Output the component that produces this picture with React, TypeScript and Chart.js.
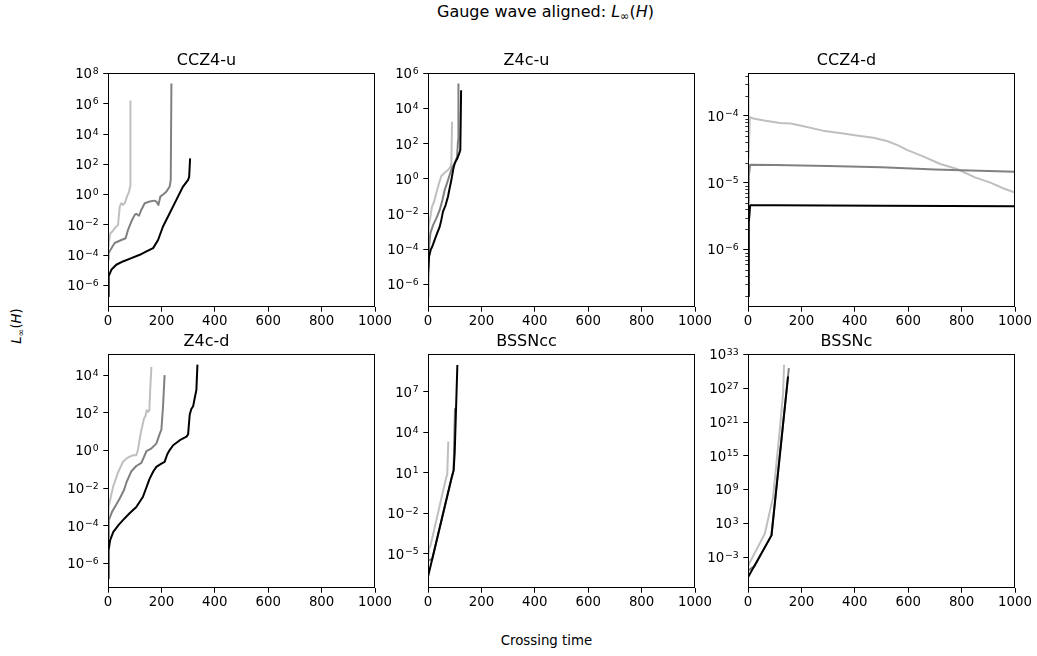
import React, { useEffect, useRef } from "react";
import { Chart, registerables } from "chart.js";

Chart.register(...registerables);

const FONT_FAMILY = "'DejaVu Sans', 'Liberation Sans', sans-serif";
const TICK_FONT_SIZE = 13.33;
const EXP_FONT_SIZE = 9.3;
const TITLE_FONT_SIZE = 16;

const COLOR_FINE = "#000000";
const COLOR_MID = "#808080";
const COLOR_COARSE = "#bfbfbf";

// Crossing-time axis
const xTickStep = 200;
const xMin = 0;
const xMax = 1000;

// ---- CCZ4-u ----
const ccz4uCoarseT = [0, 2.5, 8.75, 16, 25, 37.5, 44, 50, 56, 62.5, 71, 79, 82.5, 84];
const ccz4uCoarseH = [3.7e-4, 6.2e-4, 2.8e-3, 3.6e-3, 6.0e-3, 1.0e-2, 0.16, 0.27, 0.21, 0.27, 0.74, 1.6, 3.4, 1.7e6];
const ccz4uMidT = [0, 2, 8.75, 25, 50, 66, 75, 87.5, 100, 106, 116, 125, 137.5, 156, 175, 181, 189, 196, 209, 219, 231, 235, 237.5];
const ccz4uMidH = [5.0e-5, 1.26e-4, 2.2e-4, 6.3e-4, 1.0e-3, 1.3e-3, 4.7e-3, 1.66e-2, 4.6e-2, 5.4e-2, 4.0e-2, 0.1, 0.27, 0.35, 0.4, 0.35, 0.21, 0.74, 1.1, 1.6, 3.4, 9.3, 2.2e7];
const ccz4uFineT = [0, 2.5, 12.5, 31, 56, 87.5, 119, 144, 169, 187.5, 206, 231, 256, 281, 300, 304, 307.5];
const ccz4uFineH = [1.9e-7, 4.0e-6, 1.07e-5, 2.3e-5, 3.8e-5, 6.3e-5, 1.05e-4, 1.74e-4, 2.9e-4, 1.0e-3, 7.8e-3, 5.9e-2, 0.45, 3.4, 9.3, 15.5, 250];
const ccz4uYTicks = [1e-6, 1e-4, 1e-2, 1, 1e2, 1e4, 1e6, 1e8];

// ---- Z4c-u ----
const z4cuCoarseT = [0, 2.5, 9, 15, 21, 31, 41, 50, 62.5, 75, 84, 87.5, 90];
const z4cuCoarseH = [2.0e-7, 1.9e-3, 7.1e-3, 2.6e-2, 4.1e-2, 0.15, 0.55, 1.45, 2.2, 3.2, 4.9, 7.6, 1.8e3];
const z4cuMidT = [0, 4, 9, 19, 31, 44, 54, 62.5, 71, 81, 91, 100, 109, 112.5, 114];
const z4cuMidH = [1.8e-6, 1.4e-4, 7.9e-4, 2.3e-3, 5.6e-3, 1.7e-2, 6.3e-2, 0.23, 0.55, 1.66, 4.9, 7.6, 18.2, 158, 2.7e5];
const z4cuFineT = [0, 4, 10, 16, 25, 34, 44, 50, 56, 66, 75, 81, 87.5, 94, 100, 110, 119, 121, 124];
const z4cuFineH = [4.0e-6, 3.7e-5, 8.9e-5, 1.4e-4, 3.3e-4, 7.9e-4, 1.9e-3, 4.6e-3, 1.35e-2, 3.2e-2, 9.8e-2, 0.29, 0.85, 3.2, 7.6, 14.8, 34.7, 43.6, 1.1e5];
const z4cuYTicks = [1e-6, 1e-4, 1e-2, 1, 1e2, 1e4, 1e6];

// ---- CCZ4-d ----
const ccz4dCoarseT = [0, 2, 7, 20, 60, 120, 160, 200, 280, 350, 420, 470, 520, 560, 595, 658, 720, 783, 850, 908, 960, 1000];
const ccz4dCoarseH = [3.0e-4, 2.3e-5, 9.5e-5, 9.1e-5, 8.5e-5, 7.8e-5, 7.7e-5, 7.1e-5, 6.0e-5, 5.5e-5, 5.0e-5, 4.7e-5, 4.2e-5, 3.65e-5, 3.1e-5, 2.45e-5, 1.9e-5, 1.6e-5, 1.2e-5, 1.0e-5, 8.1e-6, 7.1e-6];
const ccz4dMidT = [0, 3, 8, 100, 300, 500, 700, 900, 1000];
const ccz4dMidH = [5.0e-6, 1.26e-5, 1.86e-5, 1.84e-5, 1.78e-5, 1.7e-5, 1.58e-5, 1.5e-5, 1.46e-5];
const ccz4dFineT = [0, 3, 8, 100, 500, 1000];
const ccz4dFineH = [2.0e-7, 2.5e-6, 4.6e-6, 4.6e-6, 4.5e-6, 4.45e-6];
const ccz4dYTicks = [1e-6, 1e-5, 1e-4];
const ccz4dMinorTicks = [
  2e-7, 3e-7, 4e-7, 5e-7, 6e-7, 7e-7, 8e-7, 9e-7,
  2e-6, 3e-6, 4e-6, 5e-6, 6e-6, 7e-6, 8e-6, 9e-6,
  2e-5, 3e-5, 4e-5, 5e-5, 6e-5, 7e-5, 8e-5, 9e-5,
  2e-4, 3e-4, 4e-4,
];

// ---- Z4c-d ----
const z4cdCoarseT = [0, 2, 6, 19, 37.5, 56, 70, 81, 95, 106, 112, 118, 125, 135, 140, 145, 150, 155, 158, 162.5];
const z4cdCoarseH = [4.5e-4, 8.9e-4, 1.8e-3, 1.17e-2, 6.8e-2, 0.25, 0.38, 0.47, 0.56, 0.56, 1.05, 3.5, 12, 50, 66, 138, 112, 138, 1.6e3, 2.75e4];
const z4cdMidT = [0, 3, 15, 30, 44, 60, 69, 87.5, 106, 125, 144, 162, 181, 194, 200, 206, 212];
const z4cdMidH = [2.5e-5, 2.0e-4, 5.5e-4, 1.26e-3, 2.8e-3, 7.9e-3, 2.0e-2, 7.9e-2, 0.15, 0.22, 0.91, 1.26, 2.3, 7.9, 12.6, 209, 1.0e4];
const z4cdFineT = [0, 2, 8, 20, 40, 56, 80, 106, 131, 156, 170, 181, 200, 212, 222, 231, 244, 269, 294, 300, 306, 312, 319, 325, 331, 335];
const z4cdFineH = [1.6e-7, 5.0e-6, 1.74e-5, 4.8e-5, 1.12e-4, 2.0e-4, 4.5e-4, 1.0e-3, 3.5e-3, 3.2e-2, 7.9e-2, 0.135, 0.2, 0.25, 0.63, 1.05, 1.9, 3.5, 5.4, 7.1, 79, 158, 224, 631, 1.6e3, 3.6e4];
const z4cdYTicks = [1e-6, 1e-4, 1e-2, 1, 1e2, 1e4];

// ---- BSSNcc ----
const bssnccCoarseT = [0, 4, 8, 69, 72, 76];
const bssnccCoarseH = [3.6e-6, 3.2e-5, 3.2e-5, 5.4, 7.1, 2.1e3];
const bssnccMidT = [0, 16, 88, 96, 101];
const bssnccMidH = [3.2e-6, 4.2e-6, 4.0, 16, 6.3e5];
const bssnccFineT = [0, 88, 96, 100, 110];
const bssnccFineH = [2.0e-7, 4.0, 16, 316, 1.0e9];
const bssnccYTicks = [1e-5, 1e-2, 1e1, 1e4, 1e7];

// ---- BSSNc ----
const bssncCoarseT = [0, 3, 63, 94, 119, 131.6, 135];
const bssncCoarseH = [3.2e-5, 5.0e-5, 14, 5.0e7, 4.0e19, 1.6e26, 1.6e31];
const bssncMidT = [0, 25, 88, 153];
const bssncMidH = [4.0e-6, 2.5e-5, 8.0, 4.0e30];
const bssncFineT = [0, 88, 150];
const bssncFineH = [2.5e-7, 7.2, 1.26e29];
const bssncYTicks = [1e-3, 1e3, 1e9, 1e15, 1e21, 1e27, 1e33];

// Subplot grid geometry (pixels)
const COL_LEFT = [108, 428, 748];
const ROW_TOP = [73, 354];
const PLOT_W = 267;
const PLOT_H = 234;
const PAD_L = 70;
const PAD_R = 25;
const PAD_T = 40;
const PAD_B = 32;
const TICK_LEN = 4.7;
const TICK_PAD = 4.7;

type Series = { t: number[]; h: number[]; color: string };
type PanelSpec = {
  title: string;
  col: number;
  row: number;
  yMin: number;
  yMax: number;
  yTicks: number[];
  minorTicks: number[];
  series: Series[];
};

const panels: PanelSpec[] = [
  {
    title: "CCZ4-u", col: 0, row: 0, yMin: 3.7e-8, yMax: 1.1e8, yTicks: ccz4uYTicks, minorTicks: [],
    series: [
      { t: ccz4uFineT, h: ccz4uFineH, color: COLOR_FINE },
      { t: ccz4uMidT, h: ccz4uMidH, color: COLOR_MID },
      { t: ccz4uCoarseT, h: ccz4uCoarseH, color: COLOR_COARSE },
    ],
  },
  {
    title: "Z4c-u", col: 1, row: 0, yMin: 5.0e-8, yMax: 1.07e6, yTicks: z4cuYTicks, minorTicks: [],
    series: [
      { t: z4cuFineT, h: z4cuFineH, color: COLOR_FINE },
      { t: z4cuMidT, h: z4cuMidH, color: COLOR_MID },
      { t: z4cuCoarseT, h: z4cuCoarseH, color: COLOR_COARSE },
    ],
  },
  {
    title: "CCZ4-d", col: 2, row: 0, yMin: 1.38e-7, yMax: 4.37e-4, yTicks: ccz4dYTicks, minorTicks: ccz4dMinorTicks,
    series: [
      { t: ccz4dFineT, h: ccz4dFineH, color: COLOR_FINE },
      { t: ccz4dMidT, h: ccz4dMidH, color: COLOR_MID },
      { t: ccz4dCoarseT, h: ccz4dCoarseH, color: COLOR_COARSE },
    ],
  },
  {
    title: "Z4c-d", col: 0, row: 1, yMin: 5.0e-8, yMax: 1.32e5, yTicks: z4cdYTicks, minorTicks: [],
    series: [
      { t: z4cdFineT, h: z4cdFineH, color: COLOR_FINE },
      { t: z4cdMidT, h: z4cdMidH, color: COLOR_MID },
      { t: z4cdCoarseT, h: z4cdCoarseH, color: COLOR_COARSE },
    ],
  },
  {
    title: "BSSNcc", col: 1, row: 1, yMin: 3.16e-8, yMax: 6.46e9, yTicks: bssnccYTicks, minorTicks: [],
    series: [
      { t: bssnccFineT, h: bssnccFineH, color: COLOR_FINE },
      { t: bssnccMidT, h: bssnccMidH, color: COLOR_MID },
      { t: bssnccCoarseT, h: bssnccCoarseH, color: COLOR_COARSE },
    ],
  },
  {
    title: "BSSNc", col: 2, row: 1, yMin: 3.16e-9, yMax: 1.26e33, yTicks: bssncYTicks, minorTicks: [],
    series: [
      { t: bssncFineT, h: bssncFineH, color: COLOR_FINE },
      { t: bssncMidT, h: bssncMidH, color: COLOR_MID },
      { t: bssncCoarseT, h: bssncCoarseH, color: COLOR_COARSE },
    ],
  },
];

// Full axes box (all four spines)
const framePlugin = {
  id: "frame",
  afterDatasetsDraw(chart: any) {
    const { ctx, chartArea: a } = chart;
    ctx.save();
    ctx.strokeStyle = "#000";
    ctx.lineWidth = 1;
    ctx.strokeRect(a.left + 0.5, a.top + 0.5, a.right - a.left - 1, a.bottom - a.top - 1);
    ctx.restore();
  },
};

// Log-axis labels written as 10 with a raised exponent
const powerLabelPlugin = {
  id: "powerLabels",
  afterDraw(chart: any) {
    const { ctx, chartArea: a } = chart;
    const y = chart.scales.y;
    const xRight = a.left - TICK_LEN - TICK_PAD;
    ctx.save();
    ctx.fillStyle = "#000";
    ctx.textAlign = "right";
    ctx.textBaseline = "alphabetic";
    for (const t of y.ticks) {
      const py = y.getPixelForValue(t.value);
      const e = Math.round(Math.log10(t.value));
      const expText = e < 0 ? "\u2212" + String(-e) : String(e);
      const base = py + 0.365 * TICK_FONT_SIZE;
      ctx.font = `${EXP_FONT_SIZE}px ${FONT_FAMILY}`;
      const ew = ctx.measureText(expText).width;
      ctx.fillText(expText, xRight, base - 4.4);
      ctx.font = `${TICK_FONT_SIZE}px ${FONT_FAMILY}`;
      ctx.fillText("10", xRight - ew - 0.6, base);
    }
    ctx.restore();
  },
};

function minorTickPlugin(values: number[]) {
  return {
    id: "minorTicks",
    afterDraw(chart: any) {
      if (!values.length) return;
      const { ctx, chartArea: a } = chart;
      const y = chart.scales.y;
      ctx.save();
      ctx.strokeStyle = "#000";
      ctx.lineWidth = 0.8;
      ctx.beginPath();
      for (const v of values) {
        if (v < y.min || v > y.max) continue;
        const py = Math.round(y.getPixelForValue(v)) + 0.5;
        ctx.moveTo(a.left + 0.5, py);
        ctx.lineTo(a.left - 2.7, py);
      }
      ctx.stroke();
      ctx.restore();
    },
  };
}

function Panel({ spec }: { spec: PanelSpec }) {
  const ref = useRef<HTMLCanvasElement>(null);
  const width = PAD_L + PLOT_W + PAD_R;
  const height = PAD_T + PLOT_H + PAD_B;
  const left = COL_LEFT[spec.col] - PAD_L;
  const top = ROW_TOP[spec.row] - PAD_T;

  useEffect(() => {
    const tickFont = { family: FONT_FAMILY, size: TICK_FONT_SIZE };
    const chart = new Chart(ref.current as HTMLCanvasElement, {
      type: "line",
      data: {
        datasets: spec.series.map((s) => ({
          data: s.t.map((t, i) => ({ x: t, y: s.h[i] })),
          borderColor: s.color,
          borderWidth: 2,
          borderJoinStyle: "round" as const,
          pointRadius: 0,
          tension: 0,
          fill: false,
        })),
      },
      options: {
        responsive: false,
        animation: false,
        devicePixelRatio: 1,
        events: [],
        layout: { padding: { left: 0, right: PAD_R, top: 0, bottom: 0 } },
        plugins: {
          legend: { display: false },
          tooltip: { enabled: false },
          title: {
            display: true,
            text: spec.title,
            color: "#000",
            font: { family: FONT_FAMILY, size: TITLE_FONT_SIZE, weight: "normal", lineHeight: 1.2 },
            padding: { top: 18.3, bottom: PAD_T - 18.3 - TITLE_FONT_SIZE * 1.2 },
          },
        },
        scales: {
          x: {
            type: "linear",
            min: xMin,
            max: xMax,
            afterFit: (s: any) => { s.height = PAD_B; },
            ticks: {
              stepSize: xTickStep,
              font: tickFont,
              color: "#000",
              padding: 2,
              maxRotation: 0,
              autoSkip: false,
              callback: (v: any) => String(v),
            },
            grid: { display: true, drawOnChartArea: false, drawTicks: true, tickLength: TICK_LEN, color: "#000", tickColor: "#000", lineWidth: 1 },
            border: { display: false },
          },
          y: {
            type: "logarithmic",
            min: spec.yMin,
            max: spec.yMax,
            afterFit: (s: any) => { s.width = PAD_L; },
            afterBuildTicks: (s: any) => { s.ticks = spec.yTicks.map((v) => ({ value: v })); },
            ticks: { display: false, autoSkip: false },
            grid: { display: true, drawOnChartArea: false, drawTicks: true, tickLength: TICK_LEN, color: "#000", tickColor: "#000", lineWidth: 1 },
            border: { display: false },
          },
        },
      } as any,
      plugins: [framePlugin, powerLabelPlugin, minorTickPlugin(spec.minorTicks)],
    });
    return () => chart.destroy();
  }, [spec]);

  return (
    <canvas
      ref={ref}
      width={width}
      height={height}
      style={{ position: "absolute", left, top, width, height }}
    />
  );
}

const subStyle: React.CSSProperties = { fontSize: "0.7em", verticalAlign: "-0.25em", lineHeight: 0 };

function LInfH() {
  return (
    <>
      <i>L</i>
      <span style={subStyle}>∞</span>(<i>H</i>)
    </>
  );
}

export default function App() {
  return (
    <div
      style={{
        position: "absolute",
        left: 0,
        top: 0,
        width: 1037,
        height: 656,
        background: "#fff",
        fontFamily: FONT_FAMILY,
        color: "#000",
        overflow: "hidden",
      }}
    >
      <div style={{ position: "absolute", left: 437, top: 4, fontSize: 16, lineHeight: 1, whiteSpace: "nowrap" }}>
        Gauge wave aligned: <LInfH />
      </div>
      <div
        style={{
          position: "absolute",
          left: 17,
          top: 326,
          fontSize: 13.33,
          lineHeight: 1,
          whiteSpace: "nowrap",
          transform: "translate(-50%, -50%) rotate(-90deg)",
        }}
      >
        <LInfH />
      </div>
      <div style={{ position: "absolute", left: 500.7, top: 633.7, fontSize: 13.33, lineHeight: 1, whiteSpace: "nowrap" }}>
        Crossing time
      </div>
      {panels.map((p) => (
        <Panel key={p.title} spec={p} />
      ))}
    </div>
  );
}
